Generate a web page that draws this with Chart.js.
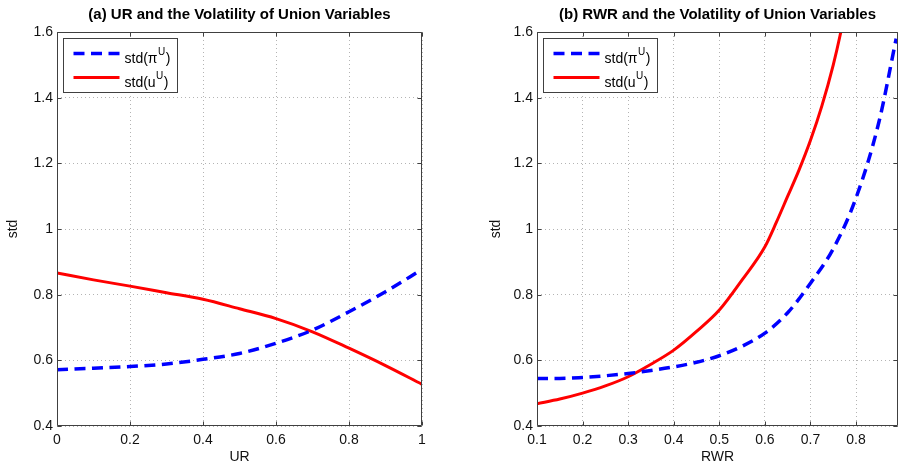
<!DOCTYPE html>
<html><head><meta charset="utf-8">
<script src="https://cdn.jsdelivr.net/npm/chart.js@4.4.1/dist/chart.umd.min.js"></script>
<style>
html,body{margin:0;padding:0;background:#fff;}
#wrap{position:relative;width:902px;height:468px;overflow:hidden;background:#fff;}
.box{position:absolute;top:0;height:468px;width:451px;}
</style></head><body>
<div id="wrap">
<div class="box" style="left:0"><canvas id="c1" width="451" height="468"></canvas></div>
<div class="box" style="left:451px"><canvas id="c2" width="451" height="468"></canvas></div>
</div>
<script>
// ---- data: panel (a) ----
const urX = [0, 0.1, 0.2, 0.3, 0.4, 0.5, 0.6, 0.7, 0.8, 0.9, 1.0];
const urPi = [0.571, 0.576, 0.581, 0.589, 0.603, 0.621, 0.652, 0.692, 0.748, 0.809, 0.877];
const urU = [0.866, 0.845, 0.826, 0.806, 0.786, 0.757, 0.727, 0.687, 0.637, 0.584, 0.527];
// ---- data: panel (b) ----
const rwrXPi = [0.1, 0.15, 0.2, 0.25, 0.3, 0.35, 0.4, 0.45, 0.5, 0.55, 0.6, 0.65, 0.7, 0.75, 0.8, 0.85, 0.888];
const rwrPi = [0.545, 0.545, 0.548, 0.553, 0.560, 0.569, 0.580, 0.594, 0.614, 0.643, 0.683, 0.745, 0.835, 0.94, 1.095, 1.325, 1.58];
const rwrXU = [0.1, 0.15, 0.2, 0.25, 0.3, 0.35, 0.4, 0.45, 0.5, 0.55, 0.6, 0.625, 0.65, 0.675, 0.7, 0.725, 0.75, 0.765, 0.775];
const rwrU = [0.468, 0.482, 0.500, 0.522, 0.550, 0.588, 0.631, 0.688, 0.753, 0.845, 0.946, 1.02, 1.10, 1.18, 1.27, 1.375, 1.50, 1.59, 1.66];
// ---- ticks & labels ----
const yTicks = [0.4, 0.6, 0.8, 1.0, 1.2, 1.4, 1.6];
const yTickLabels = ['0.4', '0.6', '0.8', '1', '1.2', '1.4', '1.6'];
const urTicks = [0, 0.2, 0.4, 0.6, 0.8, 1.0];
const urTickLabels = ['0', '0.2', '0.4', '0.6', '0.8', '1'];
const rwrTicks = [0.1, 0.2, 0.3, 0.4, 0.5, 0.6, 0.7, 0.8];
const rwrTickLabels = ['0.1', '0.2', '0.3', '0.4', '0.5', '0.6', '0.7', '0.8'];
const titles = ['(a) UR and the Volatility of Union Variables', '(b) RWR and the Volatility of Union Variables'];
const legendParts = [['std(\u03c0', 'U', ')'], ['std(u', 'U', ')']];

const FAM = "'Liberation Sans', Arial, Helvetica, sans-serif";
Chart.defaults.font.family = FAM;
Chart.defaults.color = '#111';

const pts = (xs, ys) => xs.map((x, i) => ({x: x, y: ys[i]}));

const framePlugin = {
  id: 'matlabFrame',
  afterDraw(chart, args, o) {
    const ctx = chart.ctx, a = chart.chartArea;
    const xs = chart.scales.x, ys = chart.scales.y;
    ctx.save();
    ctx.setLineDash([]);
    ctx.strokeStyle = '#404040';
    ctx.lineWidth = 1;
    const L = Math.round(a.left) + 0.5, T = Math.round(a.top) + 0.5;
    const R = Math.round(a.right) - 0.5, B = Math.round(a.bottom) - 0.5;
    ctx.beginPath();
    ctx.rect(L, T, R - L, B - T);
    ctx.stroke();
    ctx.beginPath();
    xs.ticks.forEach(t => {
      const px = Math.round(xs.getPixelForValue(t.value)) + 0.5;
      ctx.moveTo(px, B); ctx.lineTo(px, B - 4);
      ctx.moveTo(px, T); ctx.lineTo(px, T + 4);
    });
    ys.ticks.forEach(t => {
      const py = Math.round(ys.getPixelForValue(t.value)) + 0.5;
      ctx.moveTo(L, py); ctx.lineTo(L + 4, py);
      ctx.moveTo(R, py); ctx.lineTo(R - 4, py);
    });
    ctx.stroke();
    // title
    ctx.fillStyle = '#000';
    ctx.font = 'bold 15px ' + FAM;
    ctx.textAlign = 'center';
    ctx.textBaseline = 'middle';
    ctx.fillText(o.title, (a.left + a.right) / 2, 15);
    // legend
    const lx = Math.round(a.left + 6) + 0.5, ly = Math.round(a.top + 6) + 0.5, w = 114, h = 54;
    ctx.fillStyle = '#fff';
    ctx.fillRect(lx, ly, w, h);
    ctx.strokeStyle = '#404040';
    ctx.lineWidth = 1;
    ctx.strokeRect(lx, ly, w, h);
    chart.data.datasets.forEach((ds, i) => {
      const ry = ly + 15 + i * 24;
      ctx.save();
      ctx.strokeStyle = ds.borderColor;
      ctx.lineWidth = ds.borderWidth;
      ctx.setLineDash(ds.borderDash || []);
      ctx.beginPath();
      ctx.moveTo(lx + 10, ry); ctx.lineTo(lx + 56, ry);
      ctx.stroke();
      ctx.restore();
      const parts = legendParts[i];
      ctx.fillStyle = '#000';
      ctx.textAlign = 'left';
      ctx.textBaseline = 'alphabetic';
      let tx = lx + 61;
      ctx.font = '14px ' + FAM;
      ctx.fillText(parts[0], tx, ry + 9);
      tx += ctx.measureText(parts[0]).width + 0.5;
      ctx.font = '10px ' + FAM;
      ctx.fillText(parts[1], tx, ry + 1);
      tx += ctx.measureText(parts[1]).width + 0.5;
      ctx.font = '14px ' + FAM;
      ctx.fillText(parts[2], tx, ry + 9);
    });
    ctx.restore();
  }
};

function makeChart(id, cfg) {
  return new Chart(document.getElementById(id), {
    type: 'line',
    data: {
      datasets: [
        {label: legendParts[0].join(''), data: cfg.pi, borderColor: '#0000ff', borderWidth: 3.5,
         borderDash: [11, 6.5], pointRadius: 0, fill: false, cubicInterpolationMode: 'monotone'},
        {label: legendParts[1].join(''), data: cfg.u, borderColor: '#ff0000', borderWidth: 3,
         pointRadius: 0, fill: false, cubicInterpolationMode: 'monotone'}
      ]
    },
    options: {
      responsive: false,
      animation: false,
      events: [],
      layout: {padding: {top: 32, left: cfg.padL, right: cfg.padR, bottom: 0}},
      plugins: {
        legend: {display: false},
        title: {display: false},
        tooltip: {enabled: false},
        matlabFrame: {title: cfg.title}
      },
      scales: {
        x: {
          type: 'linear', min: cfg.xmin, max: cfg.xmax,
          afterBuildTicks: s => { s.ticks = cfg.xTicks.map(v => ({value: v})); },
          afterFit: s => { s.height = 42; },
          grid: {color: '#b4b4b4', lineWidth: 1, drawTicks: false},
          border: {display: false, dash: [1, 3]},
          ticks: {padding: 6, color: '#111', font: {size: 14}, maxRotation: 0, autoSkip: false,
                  callback: (v, i) => cfg.xLabels[i]},
          title: {display: true, text: cfg.xTitle, color: '#111', font: {size: 14}, padding: {top: 0, bottom: 2}}
        },
        y: {
          type: 'linear', min: 0.4, max: 1.6,
          afterBuildTicks: s => { s.ticks = yTicks.map(v => ({value: v})); },
          afterFit: s => { s.width = cfg.yw; },
          grid: {color: '#b4b4b4', lineWidth: 1, drawTicks: false},
          border: {display: false, dash: [1, 3]},
          ticks: {padding: 4, color: '#111', font: {size: 14}, autoSkip: false,
                  callback: (v, i) => yTickLabels[i]},
          title: {display: true, text: 'std', color: '#111', font: {size: 14}, padding: {top: 5, bottom: 0}}
        }
      }
    },
    plugins: [framePlugin]
  });
}

makeChart('c1', {pi: pts(urX, urPi), u: pts(urX, urU), xmin: 0, xmax: 1, xTicks: urTicks, xLabels: urTickLabels,
  xTitle: 'UR', title: titles[0], padL: 0, padR: 29, yw: 57});
makeChart('c2', {pi: pts(rwrXPi, rwrPi), u: pts(rwrXU, rwrU), xmin: 0.1, xmax: 0.892, xTicks: rwrTicks, xLabels: rwrTickLabels,
  xTitle: 'RWR', title: titles[1], padL: 32, padR: 4, yw: 54});
</script>
</body></html>
